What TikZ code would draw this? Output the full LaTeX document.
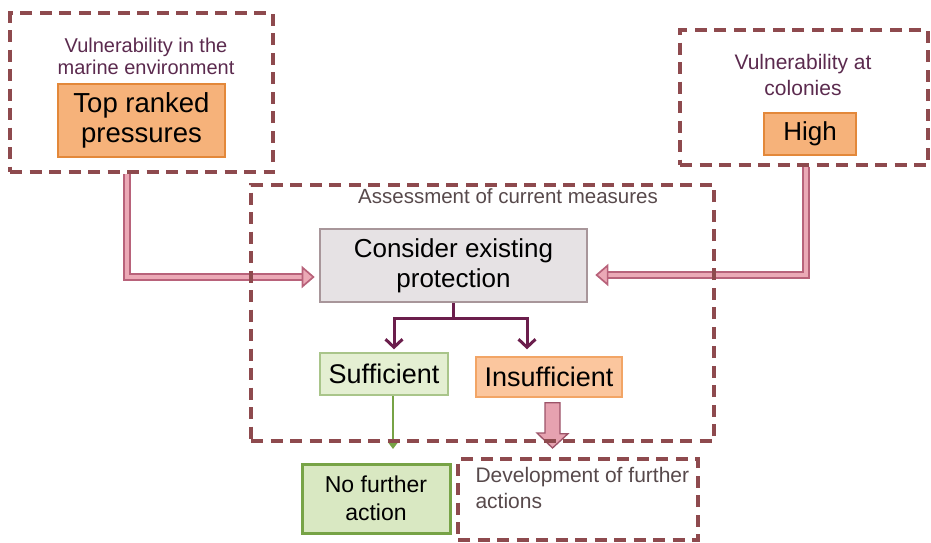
\documentclass[tikz,border=0pt]{standalone}
\usepackage{fontspec}
\setmainfont{Liberation Sans}
\usetikzlibrary{arrows.meta,calc,backgrounds}

\definecolor{dashcol}{HTML}{8E4A4E}
\definecolor{titlecol}{HTML}{5B2A4E}
\definecolor{labelcol}{HTML}{57494B}
\definecolor{orangefill}{HTML}{F6B27A}
\definecolor{orangedraw}{HTML}{E3883A}
\definecolor{grayfill}{HTML}{E6E2E4}
\definecolor{graydraw}{HTML}{A8969A}
\definecolor{greenfill}{HTML}{E4EFD2}
\definecolor{greendraw}{HTML}{A9C58A}
\definecolor{nofill}{HTML}{D9E8C2}
\definecolor{nodraw}{HTML}{77A346}
\definecolor{insfill}{HTML}{FBC69E}
\definecolor{insdraw}{HTML}{F2A566}
\definecolor{pinkdraw}{HTML}{B8627A}
\definecolor{pinkfill}{HTML}{EBA9B6}
\definecolor{branchcol}{HTML}{6B1E4C}

\tikzset{
  dashbox/.style={draw=dashcol, line width=3.2pt, dash pattern=on 12pt off 7.5pt, inner sep=0pt},
  titletext/.style={text=titlecol, align=center},
  orangebox/.style={draw=orangedraw, fill=orangefill, line width=2.2pt, align=center, inner sep=0pt},
  graybox/.style={draw=graydraw, fill=grayfill, line width=1.2pt, align=center, inner sep=0pt},
  suffbox/.style={draw=greendraw, fill=greenfill, line width=1.4pt, inner sep=0pt},
  insbox/.style={draw=insdraw, fill=insfill, line width=1.4pt, inner sep=0pt},
  nobox/.style={draw=nodraw, fill=nofill, line width=3pt, align=center, inner sep=0pt},
  pinkshaft/.style={draw=pinkdraw, line width=1.7pt, double=pinkfill, double distance=4pt},
  pinkhead/.style={draw=pinkdraw, fill=pinkfill, line width=1.7pt, line join=miter},
  branch/.style={draw=branchcol, line width=3pt},
  branchtip/.style={branch, -{Straight Barb[length=8pt, width=17pt, line width=3pt]}},
  greenarrow/.style={draw=nodraw, line width=2.2pt, -{Triangle[length=7pt, width=10pt]}},
  fatarrow/.style={draw=pinkdraw!85!black, fill=pinkfill!90!pinkdraw, line width=1.3pt, line join=miter},
}

\begin{document}
\begin{tikzpicture}[x=1pt, y=-1pt]
\useasboundingbox (0,0) rectangle (931,542);

% marine environment panel
\node[dashbox, minimum width=263pt, minimum height=159pt] (marine) at (141.5,92.5) {};
\node[titletext, font=\fontsize{20}{22}\selectfont] (marinetitle) at (146,56) {Vulnerability in the\\marine environment};
\node[orangebox, minimum width=167pt, minimum height=73pt,
      font=\fontsize{27.5}{30}\selectfont] (pressures) at (141.5,120.5) {Top ranked\\pressures};

% colonies panel
\node[dashbox, minimum width=248pt, minimum height=135pt] (colonies) at (804,97.5) {};
\node[titletext, font=\fontsize{21}{26}\selectfont] (coltitle) at (803,75) {Vulnerability at\\colonies};
\node[orangebox, minimum width=92pt, minimum height=42pt,
      font=\fontsize{26}{28}\selectfont] (high) at (810,134) {High};

% assessment panel
\node[dashbox, minimum width=463pt, minimum height=256pt] (assess) at (482.5,313) {};
\node[text=labelcol, font=\fontsize{20.5}{22}\selectfont] (assesslabel) at (508,196) {Assessment of current measures};
\node[graybox, minimum width=267pt, minimum height=73pt,
      font=\fontsize{26}{30}\selectfont] (consider) at (453.5,265.5) {Consider existing\\protection};
\node[suffbox, minimum width=128pt, minimum height=42pt,
      font=\fontsize{27}{29}\selectfont] (suff) at (384,374) {Sufficient};
\node[insbox, minimum width=146pt, minimum height=40pt,
      font=\fontsize{27}{29}\selectfont] (ins) at (549,377) {Insufficient};

% outcomes
\node[nobox, minimum width=148pt, minimum height=69pt,
      font=\fontsize{23}{28}\selectfont] (nofurther) at (376,498.5) {No further\\action};
\node[dashbox, minimum width=240pt, minimum height=81pt] (develop) at (578,499.5) {};
\node[text=labelcol, align=left, anchor=west,
      font=\fontsize{21}{26}\selectfont] (developtext) at (472,488) {Development of further\\actions};

% connectors, kept beneath the dashed frames
\begin{scope}[on background layer]
  \coordinate (lbend) at (127,277);
  \coordinate (rbend) at (806,275);
  \coordinate (ltip) at ($(consider.west |- lbend)+(-6,0)$);
  \coordinate (rtip) at ($(consider.east |- rbend)+(9,0)$);
  \draw[pinkshaft] (lbend |- marine.south) -- (lbend) -- ($(ltip)+(-10,0)$);
  \draw[pinkhead] (ltip) -- ++(-11,-9.5) -- ++(0,19) -- cycle;
  \draw[pinkshaft] (rbend |- colonies.south) -- (rbend) -- ($(rtip)+(10,0)$);
  \draw[pinkhead] (rtip) -- ++(11,-9.5) -- ++(0,19) -- cycle;

  \coordinate (sl) at (394,318);
  \coordinate (sr) at (527,318);
  \draw[branch] (consider.south) -- (consider.south |- sl);
  \draw[branch, line cap=rect] (sl) -- (sr);
  \draw[branchtip] (sl) -- ($(sl |- suff.north)+(0,-3)$);
  \draw[branchtip] (sr) -- ($(sr |- ins.north)+(0,-7)$);

  \coordinate (gtip) at (393,449);
  \draw[greenarrow] (gtip |- suff.south) -- (gtip);

  \coordinate (ftip) at (552.5,448);
  \coordinate (ftop) at ($(ftip |- ins.south)+(0,5)$);
  \draw[fatarrow] (ftip) -- ++(-15.5,-15) -- ++(8,0) |- (ftop) -| ++(7.5,31) -- ++(8,0) -- cycle;
\end{scope}
\end{tikzpicture}
\end{document}
